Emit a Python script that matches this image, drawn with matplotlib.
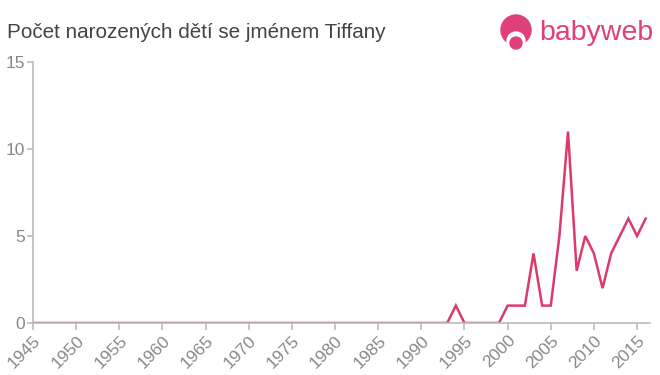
import matplotlib
matplotlib.use("Agg")
import matplotlib.pyplot as plt
from matplotlib.patches import Ellipse

plt.rcParams['font.family'] = ['Liberation Sans', 'DejaVu Sans']

years = list(range(1945, 2017))
nonzero = {1994: 1, 2000: 1, 2001: 1, 2002: 1, 2003: 4, 2004: 1, 2005: 1,
           2006: 5, 2007: 11, 2008: 3, 2009: 5, 2010: 4, 2011: 2, 2012: 4,
           2013: 5, 2014: 6, 2015: 5, 2016: 6}
counts = [nonzero.get(y, 0) for y in years]
xticks = list(range(1945, 2016, 5))
yticks = [0, 5, 10, 15]
title = "Počet narozených dětí se jménem Tiffany"

line_color = "#dc3a6a"
gray = "#888888"

W, H = 660, 375
fig = plt.figure(figsize=(6.6, 3.75), dpi=100)
ax = fig.add_axes([33/W, 1 - 323/H, (650-33)/W, (323-62)/H])
ax.plot(years, counts, color=line_color, lw=1.8, solid_joinstyle='miter')
ax.set_xlim(1945, 2016.5)
ax.set_ylim(0, 15)
ax.set_xticks(xticks)
ax.set_xticklabels([str(x) for x in xticks], rotation=45, ha='right',
                   rotation_mode='anchor', color=gray, fontsize=12.5)
ax.set_yticks(yticks)
ax.set_yticklabels([str(y) for y in yticks], color=gray, fontsize=12.5)
for s in ['top', 'right']:
    ax.spines[s].set_visible(False)
for s in ['left', 'bottom']:
    ax.spines[s].set_color('#bbbbbb')
    ax.spines[s].set_linewidth(1.2)
ax.tick_params(axis='x', colors='#bbbbbb', length=5, width=1.2, labelcolor=gray, pad=2)
ax.tick_params(axis='y', colors='#bbbbbb', length=4, width=1.2, labelcolor=gray, pad=2)

fig.text(7/W, 1 - 32/H, title, fontsize=14.9, color='#444444', va='center', ha='left')

# logo
logo_color = "#e0407a"
def px_ellipse(cx, cy, r, color, z):
    e = Ellipse((cx/W, 1 - cy/H), 2*r/W, 2*r/H, transform=fig.transFigure,
                color=color, zorder=z)
    fig.patches.append(e)

px_ellipse(516, 30, 15, logo_color, 5)
px_ellipse(516, 41, 9, 'white', 6)
px_ellipse(516, 43, 6, logo_color, 7)
fig.text(539/W, 1 - 33/H, "babyweb", fontsize=20.5, color=logo_color,
         va='center', ha='left')

fig.savefig("out.png", dpi=100)
